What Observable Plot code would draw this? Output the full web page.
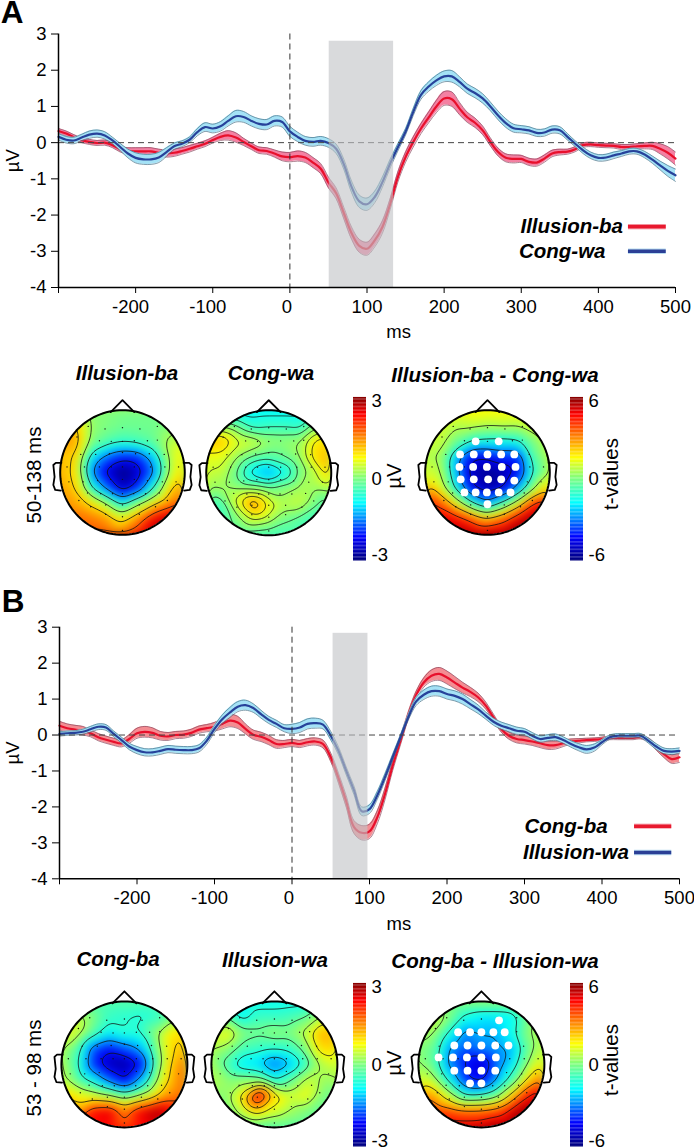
<!DOCTYPE html>
<html>
<head>
<meta charset="utf-8">
<script src="https://cdn.jsdelivr.net/npm/d3@7"></script>
<script src="https://cdn.jsdelivr.net/npm/@observablehq/plot@0.6"></script>
<style>
html,body{margin:0;padding:0;background:#fff}
#page{position:relative;width:694px;height:1147px;overflow:hidden;font-family:"Liberation Sans",Arial,sans-serif;color:#000}
#page svg{position:absolute;background:transparent;max-width:none}
.t{position:absolute;white-space:nowrap;line-height:1}
.hd{font-weight:bold;font-style:italic;font-size:20.5px}
.let{font-weight:bold;font-size:31.5px;line-height:.75}
.rot{font-size:20.5px}
</style>
</head>
<body>
<div id="page"></div>
<script>
// ---------- time axis (ms) ----------
const times = d3.range(-300, 501, 10);
const xTicksNeg = [-200, -100];
const xTicksZero = [0];
const xTicksPos = [100, 200, 300, 400, 500];
const yTicks = [-4, -3, -2, -1, 0, 1, 2, 3];

// ---------- panel A waveforms (uV) ----------
const illusionBaA = [.32,.25,.15,.07,.02,-.01,0,-.07,-.18,-.23,
 -.24,-.24,-.24,-.28,-.3,-.28,-.23,-.17,-.1,-.03,
 .07,.16,.2,.14,.02,-.1,-.21,-.23,-.3,-.38,
 -.4,-.37,-.41,-.55,-.72,-1.1,-1.4,-1.95,-2.5,-2.85,
 -2.93,-2.7,-2.33,-1.7,-.95,-.4,.02,.39,.7,1.0,
 1.22,1.2,.94,.7,.55,.34,.02,-.26,-.42,-.45,
 -.45,-.53,-.55,-.44,-.3,-.26,-.25,-.18,-.07,-.05,
 -.07,-.08,-.09,-.12,-.12,-.1,-.09,-.09,-.17,-.28,-.44];
const illusionBaASem = [.07,.07,.07,.07,.07,.07,.07,.07,.08,.09,
 .1,.1,.1,.1,.1,.1,.09,.09,.08,.08,
 .08,.1,.13,.13,.1,.09,.09,.09,.1,.12,
 .13,.14,.14,.14,.14,.15,.15,.16,.17,.18,
 .18,.18,.17,.15,.14,.14,.14,.14,.15,.17,
 .19,.2,.17,.14,.13,.12,.11,.11,.11,.11,
 .1,.1,.1,.1,.09,.08,.07,.07,.06,.06,
 .06,.06,.06,.07,.07,.07,.08,.1,.14,.17,.18];
const congWaA = [.16,.08,.06,.14,.22,.25,.2,.06,-.12,-.3,
 -.42,-.46,-.46,-.41,-.26,-.1,-.03,.08,.29,.43,
 .39,.45,.6,.73,.71,.6,.52,.5,.6,.57,
 .31,.16,.05,.02,.05,-.01,-.17,-.6,-1.22,-1.62,
 -1.7,-1.5,-1.09,-.58,-.13,.3,.85,1.32,1.55,1.72,
 1.83,1.83,1.68,1.49,1.37,1.22,1.0,.75,.54,.4,
 .37,.34,.27,.28,.36,.34,.16,-.03,-.21,-.35,
 -.42,-.41,-.35,-.3,-.24,-.24,-.33,-.47,-.63,-.78,-.9];
const congWaASem = [.09,.09,.09,.09,.1,.1,.1,.09,.1,.12,
 .14,.14,.14,.14,.12,.09,.08,.08,.1,.12,
 .12,.13,.14,.16,.15,.14,.14,.14,.14,.14,
 .14,.13,.12,.12,.12,.12,.13,.14,.16,.17,
 .17,.16,.14,.12,.1,.09,.1,.12,.13,.14,
 .15,.16,.14,.13,.13,.13,.12,.12,.12,.11,
 .1,.1,.1,.1,.1,.1,.09,.08,.09,.09,
 .09,.09,.09,.08,.08,.08,.09,.1,.12,.15,.17];

// ---------- panel B waveforms (uV) ----------
const congBaB = [.26,.19,.15,.12,.05,-.06,-.13,-.19,-.23,-.11,
 .05,.09,.06,-.02,-.04,0,.01,.06,.15,.19,
 .23,.31,.4,.35,.17,.01,-.05,-.14,-.25,-.25,
 -.22,-.25,-.2,-.18,-.25,-.62,-1.2,-1.85,-2.56,-2.72,
 -2.68,-2.29,-1.64,-.85,-.16,.54,1.1,1.46,1.65,1.7,
 1.6,1.46,1.32,1.2,1.05,.82,.49,.17,-.02,-.11,
 -.14,-.18,-.23,-.28,-.28,-.23,-.18,-.16,-.14,-.13,
 -.11,-.08,-.08,-.08,-.08,-.06,-.14,-.34,-.53,-.67,-.62];
const congBaBSem = [.12,.12,.12,.12,.1,.1,.1,.1,.1,.12,
 .14,.15,.14,.12,.11,.1,.1,.1,.1,.1,
 .12,.14,.17,.17,.14,.13,.13,.13,.12,.1,
 .1,.1,.1,.1,.11,.12,.14,.16,.18,.2,
 .2,.18,.16,.13,.11,.1,.11,.13,.16,.18,
 .18,.17,.15,.13,.12,.1,.09,.09,.1,.11,
 .11,.11,.12,.12,.11,.09,.07,.06,.05,.05,
 .05,.05,.05,.05,.05,.05,.06,.08,.1,.12,.14];
const illusionWaB = [.03,.05,.06,.09,.16,.23,.21,.03,-.14,-.32,
 -.42,-.48,-.48,-.44,-.39,-.41,-.42,-.42,-.37,-.16,
 .17,.44,.63,.79,.83,.75,.58,.42,.31,.19,
 .17,.21,.31,.33,.29,-.02,-.44,-1.0,-1.54,-2.12,
 -2.06,-1.68,-1.17,-.61,-.06,.49,.93,1.12,1.22,1.22,
 1.14,1.09,1.0,.86,.72,.54,.37,.26,.19,.12,
 .09,-.02,-.11,-.08,-.06,-.14,-.25,-.34,-.4,-.35,
 -.2,-.06,-.02,-.02,-.02,-.02,-.16,-.32,-.44,-.46,-.44];
const illusionWaBSem = [.06,.06,.06,.07,.08,.08,.08,.08,.08,.09,
 .1,.1,.1,.1,.1,.1,.1,.1,.1,.1,
 .1,.12,.14,.14,.14,.12,.11,.1,.1,.1,
 .13,.14,.14,.14,.12,.12,.11,.11,.12,.12,
 .12,.11,.1,.08,.07,.08,.11,.13,.14,.14,
 .14,.14,.14,.13,.12,.1,.1,.1,.1,.1,
 .09,.09,.09,.09,.09,.09,.09,.1,.11,.1,
 .07,.06,.06,.06,.06,.06,.07,.08,.08,.08,.08];

// ---------- analysis windows ----------
const windowA = {x1: 51, x2: 134.5, y1: -4, y2: 2.8};
const windowB = {x1: 53, x2: 98, y1: -4, y2: 2.83};

// ---------- scalp map samples, rows top to bottom, columns left to right ----------
const gridAxis = [-1, -.75, -.5, -.25, 0, .25, .5, .75, 1];
const mapIllusionBa = [
 [.2,.2,0,0,-.1,-.1,-.1,-.1,0],
 [1.2,1.1,.1,0,-.1,-.1,-.1,0,.2],
 [1.4,1.3,0,-.3,-.5,-.4,-.2,.3,.4],
 [1.1,1,-.9,-1.6,-2,-1.9,-1.1,.3,.9],
 [1.2,.9,-1.4,-2.4,-3,-2.5,-1.5,.3,1.1],
 [1.4,1,-.6,-1.6,-2.6,-1.9,-.6,.9,1.5],
 [1.5,1.3,.9,.2,-.8,.1,.9,1.5,1.9],
 [1.7,1.7,1.6,1.4,.8,1.5,2.4,2.7,2.7],
 [1.8,1.8,1.8,1.7,1.6,2.2,2.8,2.8,2.8]];
const mapCongWa = [
 [-.9,-.9,-.9,-.9,-.9,-.9,-.9,-.9,-.9],
 [.1,.1,-.15,-.6,-.5,-.5,-.6,0,.2],
 [1.15,1.15,.55,.45,.15,.1,.15,.9,1],
 [.6,.6,.15,-.2,-.3,-.15,.15,1,1.2],
 [.4,.4,-.2,-1,-1.4,-.85,-.05,.35,1.1],
 [.1,.2,.1,.05,-.1,.05,.25,.15,.3],
 [-.5,-.4,.6,1.5,.7,.3,.4,-.1,-.4],
 [-.4,-.4,0,.5,.3,-.1,-.3,-.5,-.5],
 [-.4,-.4,-.4,-.4,-.4,-.4,-.4,-.4,-.4]];
const mapDiffA = [
 [1.5,1.5,1.5,1.5,1.5,1.5,1.5,1.5,1.5],
 [1,1,.6,.8,.6,.7,.6,1,1],
 [1,.8,-.2,-1.3,-1.5,-1.6,-1.4,0,.9],
 [.6,.4,-2.4,-4.5,-4.5,-3.8,-3.8,-.5,.6],
 [1,.7,-2.5,-5.2,-5.8,-5.5,-4.2,-1,.4],
 [3,1.2,-1.6,-4.5,-5.5,-4.8,-2.5,.4,2.4],
 [4.6,3.6,1.4,-1,-2.6,-.8,1.4,4.2,5],
 [5,5,4.6,3.6,2.4,3.4,5,5.6,5.6],
 [5.5,5.5,5.5,5.5,5.5,5.5,6,6,6]];
const mapCongBa = [
 [-.3,-.3,-.3,-.3,-.3,-.3,-.3,-.3,-.3],
 [.4,.4,0,-.5,-.6,-.7,-.6,-.1,.2],
 [.5,.5,-.3,-.9,-.6,-.6,.1,.9,1],
 [.3,-.3,-1.7,-2.1,-1.7,-1.3,-.1,1,1.2],
 [.3,-.5,-1.9,-2.6,-2.8,-2.2,-.3,1.1,1.7],
 [.4,-.2,-.8,-1.6,-2.3,-1.3,.1,1.2,1.8],
 [1.1,.8,.6,.3,-.2,.3,.9,1.5,1.8],
 [1.3,1.3,2.3,2.5,1.6,2.4,2.8,2.4,2.2],
 [2,2,2.2,2.3,1.8,2.3,2.5,2.3,2.2]];
const mapIllusionWa = [
 [-.8,-.8,-.8,-.8,-.8,-.8,-.8,-.8,-.8],
 [-.2,-.2,-.9,-.5,-.5,-.4,-.2,.3,.3],
 [.3,.7,0,-.1,.1,0,.4,1.3,1.1],
 [.3,.1,-.4,-.5,-.6,-.5,0,1,1],
 [.2,-.4,-1,-1.1,-1.6,-1.2,-.5,.3,.6],
 [.3,.1,.1,0,-.7,-.2,.4,.2,.2],
 [0,.1,.9,2.6,1,.5,.7,0,-.2],
 [-.1,-.1,.4,.9,.5,.2,0,-.2,-.2],
 [-.3,-.3,-.3,-.3,-.3,-.3,-.3,-.3,-.3]];
const mapDiffB = [
 [.2,.2,.2,.2,.2,.2,.2,.2,.2],
 [.9,.9,0,-1.5,-2,-2,-1.8,0,.3],
 [.5,.3,-1.5,-3,-2.5,-2.5,-1.5,.2,.8],
 [.1,-.4,-2.8,-3.5,-3,-2.8,-2.4,-.2,1],
 [.4,-.5,-3,-4.2,-5,-3.2,-1.8,.4,1.8],
 [1.3,.6,-1.6,-3.8,-4.4,-2.6,-.6,2,3.5],
 [3,2.6,.8,-1.2,-1,-.1,2.2,4.6,5.5],
 [4,4,3.8,3.4,3.4,3.8,5.2,5.8,5.8],
 [5,5,5,5,5.2,5.8,5.8,5.8,5.8]];

// ---------- contour levels of each map ----------
const levelsIllusionBa = [-2.2, -1.4, -.6, .2, 1, 1.8];
const levelsCongWa = [-1.05, -.75, -.45, -.15, .15, .45, .75, 1.05];
const levelsDiffA = [-4.6, -2.9, -1.2, .5, 2.2, 3.9];
const levelsCongBa = [-2.2, -1.4, -.6, .2, 1, 1.8];
const levelsIllusionWa = [-1.1, -.65, -.2, .25, .7, 1.15, 1.6];
const levelsDiffB = [-4, -2.6, -1.2, .2, 1.6, 3, 4.4];

// ---------- electrodes and head outline (head-radius units) ----------
const electrodes = [[-.55,.74],[-.28,.70],[0,.72],[.28,.70],[.56,.74],
 [-.73,.57],[-.37,.51],[-.18,.50],[0,.50],[.19,.51],[.40,.51],[.56,.52],
 [-.67,.29],[-.43,.29],[-.21,.30],[0,.32],[.21,.30],[.43,.30],[.67,.29],
 [-.89,.09],[-.61,.09],[-.37,.09],[-.18,.09],[0,.09],[.19,.09],[.45,.09],[.68,.09],[.90,.09],
 [-.86,-.15],[-.63,-.15],[-.40,-.13],[-.19,-.11],[0,-.11],[.19,-.11],[.40,-.13],[.64,-.15],[.86,-.15],
 [-.56,-.33],[-.35,-.34],[-.16,-.34],[0,-.34],[.18,-.34],[.37,-.34],[.59,-.33],
 [-.70,-.45],[-.51,-.55],[-.27,-.52],[0,-.52],[.27,-.52],[.53,-.55],[.72,-.45],
 [-.27,-.67],[0,-.71],[.27,-.67],[0,-.93]];
const sigA = [[-.19,.50],[.18,.50],
 [-.44,.29],[-.22,.29],[0,.29],[.22,.29],[.43,.29],
 [-.45,.09],[-.23,.09],[-.01,.09],[.23,.09],[.45,.09],
 [-.43,-.11],[-.22,-.11],[.01,-.11],[.22,-.11],[.43,-.13],
 [-.37,-.32],[-.19,-.32],[-.01,-.32],[.18,-.32],[.37,-.32],
 [0,-.51]];
const sigB = [[.28,.70],
 [-.37,.51],[-.18,.51],[0,.51],[.19,.51],[.37,.51],
 [-.43,.30],[-.22,.30],[0,.30],[.22,.30],[.43,.30],
 [-.68,.11],[-.45,.11],[-.23,.11],[0,.11],[.23,.11],
 [-.43,-.10],[-.22,-.10],[0,-.10],[.22,-.10],
 [-.18,-.30],[0,-.30]];
const noseShape = [[-.19,.97],[0,1.16],[.19,.97]];
const leftEar = [[-.98,.155],[-1.07,.155],[-1.11,.12],[-1.09,-.07],[-1.11,-.2],[-1.08,-.28],[-.99,-.29]];
const rightEar = leftEar.map(([x, y]) => [-x, y]);
const outline = d3.range(0, 361, 3).map(a => [Math.cos(a * Math.PI / 180), Math.sin(a * Math.PI / 180)]);

// ---------- colour map (jet) ----------
const jetStops = [-1, -.72, -.3, 0, .25, .78, 1];
const jetColors = ["#00007f", "#0000ff", "#00ffff", "#7fff7f", "#ffff00", "#ff0000", "#7f0000"];

const page = document.getElementById("page");
function place(el, left, top) { el.style.left = left + "px"; el.style.top = top + "px"; page.appendChild(el); }
function txt(s, x, y, cls, rot) {
  const d = document.createElement("div");
  d.className = "t " + cls; d.textContent = s;
  d.style.left = x + "px"; d.style.top = y + "px";
  d.style.transform = `translate(-50%,-50%)` + (rot ? ` rotate(${rot}deg)` : "");
  page.appendChild(d);
}

function erp(o) {
  const rows = (vals, sem) => times.map((t, i) => ({t, v: vals[i], lo: vals[i] - sem[i], hi: vals[i] + sem[i]}));
  const r = rows(o.red, o.redSem), b = rows(o.blue, o.blueSem);
  const curve = "catmull-rom";
  const xLabel = (ticks, dx) => Plot.axisX({ticks, tickSize: 0, tickPadding: 12, fontSize: 18.5, dx, tickFormat: d => String(d), label: null});
  const plot = Plot.plot({
    width: 694, height: 345,
    marginLeft: o.left, marginRight: o.right, marginTop: o.top, marginBottom: 345 - o.bottom,
    x: {type: "linear", domain: [-300, 500]},
    y: {type: "linear", domain: [-4, 3]},
    style: {background: "transparent", fontFamily: '"Liberation Sans",Arial,sans-serif', color: "#000"},
    marks: [
      Plot.areaY(r, {x: "t", y1: "lo", y2: "hi", fill: o.redBand, curve}),
      Plot.lineY(r, {x: "t", y: "lo", stroke: "#8a4a60", strokeWidth: .7, curve}),
      Plot.lineY(r, {x: "t", y: "hi", stroke: "#8a4a60", strokeWidth: .7, curve}),
      Plot.lineY(r, {x: "t", y: "v", stroke: "#e8102c", strokeWidth: 2.2, curve}),
      Plot.areaY(b, {x: "t", y1: "lo", y2: "hi", fill: "#a4e2f6", curve}),
      Plot.lineY(b, {x: "t", y: "lo", stroke: "#4a7288", strokeWidth: .7, curve}),
      Plot.lineY(b, {x: "t", y: "hi", stroke: "#4a7288", strokeWidth: .7, curve}),
      Plot.lineY(b, {x: "t", y: "v", stroke: "#27429a", strokeWidth: 2.2, curve}),
      Plot.ruleY([0], {stroke: "#444", strokeWidth: 1, strokeDasharray: "6 4"}),
      Plot.ruleX([0], {stroke: "#333", strokeWidth: 1, strokeDasharray: "6 4"}),
      Plot.rect([o.win], {x1: "x1", x2: "x2", y1: "y1", y2: "y2", fill: "#c2c4c7", fillOpacity: .62}),
      Plot.ruleX([-300], {stroke: "#000", strokeWidth: 1.5}),
      Plot.ruleY([-4], {stroke: "#000", strokeWidth: 1.5}),
      Plot.axisY({ticks: yTicks, tickSize: 7, tickPadding: 5, fontSize: 18.5, tickFormat: d => String(d),
        label: "µV", labelAnchor: "center", labelOffset: o.left - 5, labelArrow: "none"}),
      Plot.axisX({ticks: [-300, ...xTicksNeg, ...xTicksZero, ...xTicksPos], tickSize: 6, tickFormat: () => "", label: null}),
      xLabel(xTicksNeg, -5), xLabel(xTicksZero, -3), xLabel(xTicksPos, 0),
      Plot.text(["ms"], {x: [o.msX], y: [-4], dy: 45, fontSize: 18.5}),
      Plot.text(o.legend, {x: "x", y: "y", text: "name", textAnchor: "start", fontSize: 20.5, fontWeight: "bold", fontStyle: "italic"}),
      Plot.ruleY(o.legend, {x1: "a", x2: "b", y: "y", stroke: d => d.halo, strokeWidth: 5.5}),
      Plot.ruleY(o.legend, {x1: "a", x2: "b", y: "y", stroke: d => d.color, strokeWidth: 3.6})
    ]
  });
  place(plot, 0, o.offset);
}

function clipToHead(idBase) {
  return function (index, scales, values, dims, ctx, next) {
    const g = next(index, scales, values, dims, ctx);
    const id = "clip" + idBase + Math.random().toString(36).slice(2);
    const cp = d3.create("svg:clipPath").attr("id", id);
    cp.append("circle").attr("cx", scales.x(0)).attr("cy", scales.y(0)).attr("r", scales.x(1) - scales.x(0));
    const wrap = d3.create("svg:g").attr("clip-path", `url(#${id})`);
    wrap.node().appendChild(cp.node());
    wrap.node().appendChild(g);
    return wrap.node();
  };
}

function headMap(o) {
  const span = 1.3, size = 2 * span * o.r;
  const pts = [];
  o.values.forEach((row, i) => row.forEach((v, j) => pts.push({x: gridAxis[j], y: gridAxis[gridAxis.length - 1 - i], v})));
  const line = (arr, sw) => Plot.line(arr, {x: d => d[0], y: d => d[1], stroke: "#000", strokeWidth: sw});
  const plot = Plot.plot({
    width: size, height: size, margin: 0,
    x: {domain: [-span, span], axis: null},
    y: {domain: [-span, span], axis: null},
    color: {type: "linear", domain: jetStops.map(s => s * o.max), range: jetColors, clamp: true},
    style: {background: "transparent"},
    marks: [
      Plot.raster(pts, {x: "x", y: "y", fill: "v", interpolate: "barycentric", pixelSize: 1, blur: 4, render: clipToHead("r")}),
      Plot.contour(pts, {x: "x", y: "y", value: "v", interpolate: "barycentric", pixelSize: 1, blur: 4,
        thresholds: o.levels, fill: "none", stroke: "#111", strokeWidth: .8, render: clipToHead("c")}),
      Plot.dot(electrodes, {x: d => d[0], y: d => d[1], r: .7, fill: "#111", stroke: "none"}),
      Plot.dot(o.sig || [], {x: d => d[0], y: d => d[1], r: 3.9, fill: "#fff", stroke: "none"}),
      line(outline, 2), line(noseShape, 1.8), line(leftEar, 1.8), line(rightEar, 1.8)
    ]
  });
  place(plot, o.cx - size / 2, o.cy - size / 2);
}

function colorBar(o) {
  const step = o.max / 60;
  const levels = d3.range(-o.max, o.max, step);
  const w = 90;
  const plot = Plot.plot({
    width: w, height: o.h, margin: 0, marginRight: w - o.w,
    x: {domain: [0, 1], axis: null},
    y: {domain: [-o.max, o.max], axis: null},
    color: {type: "linear", domain: jetStops.map(s => s * o.max), range: jetColors, clamp: true},
    style: {background: "transparent", overflow: "visible", fontFamily: '"Liberation Sans",Arial,sans-serif', color: "#000"},
    marks: [
      Plot.rect(levels, {x1: () => 0, x2: () => 1, y1: d => d, y2: d => d + step * 1.05, fill: d => d}),
      Plot.text(o.labels, {x: () => 1, y: (d, i) => o.labelPos[i], text: d => d, dx: 5, textAnchor: "start", fontSize: 18.5, clip: false})
    ]
  });
  place(plot, o.x, o.y);
}

const barTicksUV = ["3", "0", "-3"], barTicksT = ["6", "0", "-6"];

erp({offset: 0, left: 58, right: 19, top: 33.5, bottom: 287, msX: 141,
  red: illusionBaA, redSem: illusionBaASem, blue: congWaA, blueSem: congWaASem, redBand: "#f480a2", win: windowA,
  legend: [
    {name: "Illusion-ba", x: 299, y: -2.32, a: 439, b: 488, color: "#e8192e", halo: "#f8b8c0"},
    {name: "Cong-wa", x: 297, y: -3.0, a: 439, b: 488, color: "#2b3f96", halo: "#b8dcf0"}]});
erp({offset: 590, left: 59, right: 15, top: 36.7, bottom: 288.3, msX: 138,
  red: congBaB, redSem: congBaBSem, blue: illusionWaB, blueSem: illusionWaBSem, redBand: "#f48c92", win: windowB,
  legend: [
    {name: "Cong-ba", x: 300, y: -2.54, a: 442, b: 490, color: "#e8192e", halo: "#f8b8c0"},
    {name: "Illusion-wa", x: 298, y: -3.27, a: 442, b: 490, color: "#2b3f96", halo: "#b8dcf0"}]});

headMap({cx: 121.7, cy: 472.3, r: 62.3, max: 3, levels: levelsIllusionBa, values: mapIllusionBa});
headMap({cx: 268.3, cy: 472.3, r: 62.5, max: 3, levels: levelsCongWa, values: mapCongWa});
headMap({cx: 487.3, cy: 472.3, r: 62.3, max: 6, levels: levelsDiffA, values: mapDiffA, sig: sigA});
headMap({cx: 124, cy: 1064, r: 63, max: 3, levels: levelsCongBa, values: mapCongBa});
headMap({cx: 273.7, cy: 1064, r: 63, max: 3, levels: levelsIllusionWa, values: mapIllusionWa});
headMap({cx: 481.3, cy: 1064, r: 63, max: 6, levels: levelsDiffB, values: mapDiffB, sig: sigB});

colorBar({x: 352.7, y: 396.7, w: 13, h: 163.5, max: 3, labels: barTicksUV, labelPos: [2.87, 0, -2.8]});
colorBar({x: 570, y: 396.7, w: 13, h: 163.5, max: 6, labels: barTicksT, labelPos: [5.74, 0, -5.6]});
colorBar({x: 352.7, y: 983, w: 13, h: 163.5, max: 3, labels: barTicksUV, labelPos: [2.87, 0, -2.8]});
colorBar({x: 570, y: 983, w: 13, h: 163.5, max: 6, labels: barTicksT, labelPos: [5.74, 0, -5.6]});

txt("A", 12, 13, "let");
txt("B", 13, 602, "let");
txt("Illusion-ba", 127, 373, "hd");
txt("Cong-wa", 271, 373, "hd");
txt("Illusion-ba - Cong-wa", 495, 375, "hd");
txt("Cong-ba", 118, 959, "hd");
txt("Illusion-wa", 275, 960, "hd");
txt("Cong-ba - Illusion-wa", 495, 961, "hd");
txt("50-138 ms", 34, 475, "rot", -90);
txt("53 - 98 ms", 34, 1068, "rot", -90);
txt("µV", 394, 476, "rot", -90);
txt("t-values", 610.7, 474, "rot", -90);
txt("µV", 394, 1063, "rot", -90);
txt("t-values", 610.7, 1060, "rot", -90);
</script>
</body>
</html>
